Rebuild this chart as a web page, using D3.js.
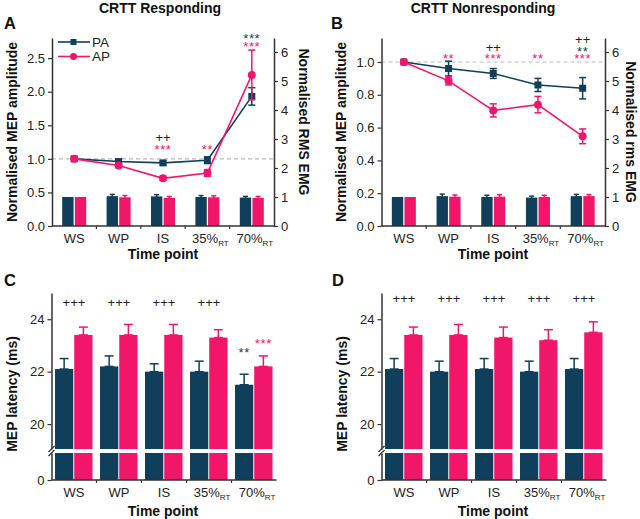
<!DOCTYPE html>
<html>
<head>
<meta charset="utf-8">
<script src="https://cdn.jsdelivr.net/npm/d3@7"></script>
<style>
body { margin: 0; background: #fff; }
text { font-family: "Liberation Sans", Arial, sans-serif; }
</style>
</head>
<body>
<svg id="fig" width="640" height="519"></svg>
<script>
// categories
var timePoints = ["WS", "WP", "IS", "35%", "70%"];
var timeSubs = ["", "", "", "RT", "RT"];

// A - CRTT responding, normalised MEP amplitude (lines) and rms EMG (bars)
var respPA = [1.0, 0.96, 0.94, 0.98, 1.93];
var respPAerr = [0, 0.03, 0.03, 0.05, 0.13];
var respAP = [1.0, 0.90, 0.71, 0.79, 2.25];
var respAPerr = [0, 0.03, 0.03, 0.05, 0.37];
var respEmgPA = [1.0, 1.03, 1.02, 1.0, 0.98];
var respEmgPAerr = [0, 0.06, 0.06, 0.05, 0.04];
var respEmgAP = [1.0, 0.99, 0.97, 0.99, 0.97];
var respEmgAPerr = [0, 0.06, 0.05, 0.05, 0.05];
// [time index, level (MEP units), rows from bottom: text, colour key]
var respMarks = [
    [2, 1.2, [["***", "ap"], ["++", "k"]]],
    [3, 1.2, [["**", "ap"]]],
    [4, 2.73, [["***", "ap"], ["***", "pa"]]]
];

// B - CRTT nonresponding
var nonPA = [1.0, 0.96, 0.93, 0.86, 0.84];
var nonPAerr = [0, 0.045, 0.03, 0.04, 0.065];
var nonAP = [1.0, 0.885, 0.705, 0.74, 0.547];
var nonAPerr = [0, 0.025, 0.04, 0.05, 0.045];
var nonEmgPA = [1.0, 1.03, 1.0, 0.98, 1.03];
var nonEmgPAerr = [0, 0.07, 0.06, 0.05, 0.06];
var nonEmgAP = [1.0, 1.01, 1.01, 1.0, 1.03];
var nonEmgAPerr = [0, 0.06, 0.07, 0.06, 0.05];
var nonMarks = [
    [1, 1.043, [["**", "ap"]]],
    [2, 1.043, [["***", "ap"], ["++", "k"]]],
    [3, 1.043, [["**", "ap"]]],
    [4, 1.043, [["***", "ap"], ["**", "pa"], ["++", "k"]]]
];

// C, D - MEP latency (ms)
var latRespPA = [22.1, 22.2, 22.0, 22.0, 21.5];
var latRespPAerr = [0.4, 0.4, 0.3, 0.4, 0.4];
var latRespAP = [23.4, 23.4, 23.4, 23.3, 22.2];
var latRespAPerr = [0.3, 0.4, 0.4, 0.3, 0.4];
var latNonPA = [22.1, 22.0, 22.1, 22.0, 22.1];
var latNonPAerr = [0.4, 0.4, 0.4, 0.4, 0.4];
var latNonAP = [23.4, 23.4, 23.3, 23.2, 23.5];
var latNonAPerr = [0.3, 0.4, 0.4, 0.4, 0.4];
// [time index, series ("grp" = whole group), level (ms), text, colour key]
var latRespMarks = [
    [0, "grp", 24.62, "+++", "k"], [1, "grp", 24.62, "+++", "k"],
    [2, "grp", 24.62, "+++", "k"], [3, "grp", 24.62, "+++", "k"],
    [4, "PA", 22.86, "**", "pa"], [4, "AP", 23.2, "***", "ap"]
];
var latNonMarks = [
    [0, "grp", 24.8, "+++", "k"], [1, "grp", 24.8, "+++", "k"],
    [2, "grp", 24.8, "+++", "k"], [3, "grp", 24.8, "+++", "k"],
    [4, "grp", 24.8, "+++", "k"]
];

var colors = { pa: "#0f3f5a", ap: "#f2166b", k: "#222" };
var AX = "#333";
var svg = d3.select("#fig");

// rows: [[text, colour], ...] from bottom to top, y = visual centre of bottom row
function markText(g, x, y, rows) {
    var t = g.append("text")
        .attr("text-anchor", "middle")
        .attr("font-size", 13);
    rows.slice().reverse().forEach(function(r, k) {
        var star = r[0].indexOf("*") >= 0;
        var rowY = y - (rows.length - 1 - k) * 7.5;
        t.append("tspan")
            .attr("x", x)
            .attr("y", rowY + (star ? 8.2 : 4.3))
            .attr("letter-spacing", star ? 0.6 : 0)
            .attr("fill", colors[r[1]])
            .text(r[0]);
    });
}

function xAxis(g, x, yPos, boundaries) {
    g.append("line")
        .attr("x1", x.range()[0]).attr("x2", x.range()[1])
        .attr("y1", yPos).attr("y2", yPos)
        .attr("stroke", AX).attr("stroke-width", 1.5);
    boundaries.forEach(function(b) {
        g.append("line")
            .attr("x1", b).attr("x2", b)
            .attr("y1", yPos).attr("y2", yPos + 3)
            .attr("stroke", AX).attr("stroke-width", 1.2);
    });
    timePoints.forEach(function(t, i) {
        var tx = g.append("text")
            .attr("x", x(t) + x.bandwidth() / 2 + (timeSubs[i] ? 3 : 0))
            .attr("y", yPos + 17)
            .attr("text-anchor", "middle")
            .attr("font-size", 13)
            .attr("fill", "#222")
            .text(t);
        if (timeSubs[i]) {
            tx.append("tspan")
                .attr("font-size", 8)
                .attr("dy", 3)
                .text(timeSubs[i]);
        }
    });
}

function styleAxis(sel) {
    sel.selectAll("path").attr("stroke", AX).attr("stroke-width", 1.5);
    sel.selectAll("line").attr("stroke", AX).attr("stroke-width", 1.2);
    sel.selectAll("text").attr("font-size", 13).attr("fill", "#222")
        .style("font-family", "'Liberation Sans', Arial, sans-serif");
}

function axisLabel(x, y, txt, rot) {
    svg.append("text")
        .attr("transform", "translate(" + x + "," + y + ") rotate(" + rot + ")")
        .attr("text-anchor", "middle")
        .attr("dominant-baseline", "central")
        .attr("font-size", 14)
        .attr("font-weight", "bold")
        .attr("fill", "#111")
        .text(txt);
}

function errBar(g, cx, yTop, yBot, col, w) {
    g.append("line").attr("x1", cx).attr("x2", cx).attr("y1", yTop).attr("y2", yBot)
        .attr("stroke", col).attr("stroke-width", 1.5);
    g.append("line").attr("x1", cx - w / 2).attr("x2", cx + w / 2).attr("y1", yTop).attr("y2", yTop)
        .attr("stroke", col).attr("stroke-width", 1.5);
    if (yBot !== null) {
        g.append("line").attr("x1", cx - w / 2).attr("x2", cx + w / 2).attr("y1", yBot).attr("y2", yBot)
            .attr("stroke", col).attr("stroke-width", 1.5);
    }
}

function linePanel(o) {
    var g = svg.append("g");
    var yB = 226, yT = 38;
    var x = d3.scaleBand().domain(timePoints).range([o.x0, o.x1]);
    var y = d3.scaleLinear().domain([0, o.yMax]).range([yB, yT]);
    var yR = d3.scaleLinear().domain([0, 188 / 29]).range([yB, yT]);
    var bw = x.bandwidth();
    var sub = d3.scaleBand().domain(["pa", "ap"]).range([bw / 2 - 12, bw / 2 + 12]).paddingInner(0.1);
    var cx = function(i) { return x(timePoints[i]) + bw / 2; };

    // rms EMG bars
    [["pa", o.emgPA, o.emgPAerr], ["ap", o.emgAP, o.emgAPerr]].forEach(function(s) {
        s[1].forEach(function(v, i) {
            g.append("rect")
                .attr("x", x(timePoints[i]) + sub(s[0]))
                .attr("y", yR(v))
                .attr("width", sub.bandwidth())
                .attr("height", yR(0) - yR(v))
                .attr("fill", colors[s[0]]);
            if (s[2][i] > 0) {
                var bx = x(timePoints[i]) + sub(s[0]) + sub.bandwidth() / 2;
                errBar(g, bx, yR(v + s[2][i]), yR(v - s[2][i]), colors[s[0]], 5);
            }
        });
    });

    // reference line at 1.0
    g.append("line")
        .attr("x1", o.x0).attr("x2", o.x1)
        .attr("y1", y(1)).attr("y2", y(1))
        .attr("stroke", "#bbb").attr("stroke-width", 1.2)
        .attr("stroke-dasharray", "4,3");

    var line = d3.line().x(function(d, i) { return cx(i); }).y(function(d) { return y(d); });
    [["pa", o.pa, o.paErr], ["ap", o.ap, o.apErr]].forEach(function(s) {
        var col = colors[s[0]];
        g.append("path").datum(s[1])
            .attr("d", line)
            .attr("fill", "none")
            .attr("stroke", col)
            .attr("stroke-width", 1.6);
        s[1].forEach(function(v, i) {
            if (s[2][i] > 0) errBar(g, cx(i), y(v + s[2][i]), y(v - s[2][i]), col, 7);
            if (s[0] === "pa") {
                g.append("rect").attr("x", cx(i) - 3.5).attr("y", y(v) - 3.5)
                    .attr("width", 7).attr("height", 7).attr("fill", col);
            } else {
                g.append("circle").attr("cx", cx(i)).attr("cy", y(v)).attr("r", 4).attr("fill", col);
            }
        });
    });

    // significance marks
    o.marks.forEach(function(m) {
        markText(g, cx(m[0]), y(m[1]), m[2]);
    });

    // axes
    var left = g.append("g").attr("transform", "translate(" + o.x0 + ",0)")
        .call(d3.axisLeft(y).tickValues(o.ticks).tickSize(4).tickSizeOuter(0).tickFormat(d3.format(".1f")));
    styleAxis(left);
    var right = g.append("g").attr("transform", "translate(" + o.x1 + ",0)")
        .call(d3.axisRight(yR).tickValues([0, 1, 2, 3, 4, 5, 6]).tickSize(4).tickSizeOuter(0).tickFormat(d3.format("d")));
    styleAxis(right);
    var bounds = [1, 2, 3, 4].map(function(i) { return x(timePoints[i]); });
    xAxis(g, x, yB, bounds);

    if (o.legend) {
        [["pa", "PA"], ["ap", "AP"]].forEach(function(s, k) {
            var ly = 42 + k * 14.5;
            g.append("line").attr("x1", o.x0 + 6).attr("x2", o.x0 + 38).attr("y1", ly).attr("y2", ly)
                .attr("stroke", colors[s[0]]).attr("stroke-width", 1.6);
            if (s[0] === "pa") {
                g.append("rect").attr("x", o.x0 + 18.5).attr("y", ly - 3).attr("width", 6).attr("height", 6)
                    .attr("fill", colors.pa);
            } else {
                g.append("circle").attr("cx", o.x0 + 21.5).attr("cy", ly).attr("r", 3.5).attr("fill", colors.ap);
            }
            g.append("text").attr("x", o.x0 + 40).attr("y", ly + 4.5)
                .attr("font-size", 13.5).attr("fill", "#222").text(s[1]);
        });
    }
}

function barPanel(o) {
    var g = svg.append("g");
    var x = d3.scaleBand().domain(timePoints).range([o.x0, o.x1]);
    var yU = d3.scaleLinear().domain([19.05, 25]).range([449, 293]);
    var yL = d3.scaleLinear().domain([0, 1]).range([480, 453]);
    var bw = x.bandwidth();
    var sub = d3.scaleBand().domain(["pa", "ap"]).range([3.5, bw - 4]).paddingInner(0.05);

    [["pa", o.pa, o.paErr], ["ap", o.ap, o.apErr]].forEach(function(s) {
        var col = colors[s[0]];
        s[1].forEach(function(v, i) {
            var bx = x(timePoints[i]) + sub(s[0]);
            errBar(g, bx + sub.bandwidth() / 2, yU(v + s[2][i]), yU(v), col, 9);
            g.append("rect").attr("x", bx).attr("y", yU(v))
                .attr("width", sub.bandwidth()).attr("height", yU.range()[0] - yU(v))
                .attr("fill", col);
            g.append("rect").attr("x", bx).attr("y", yL(1))
                .attr("width", sub.bandwidth()).attr("height", yL(0) - yL(1))
                .attr("fill", col);
        });
    });

    o.marks.forEach(function(m) {
        var mx = x(timePoints[m[0]]);
        if (m[1] === "grp") mx += bw / 2;
        else mx += sub(m[1].toLowerCase()) + sub.bandwidth() / 2;
        markText(g, mx, yU(m[2]), [[m[3], m[4]]]);
    });

    var up = g.append("g").attr("transform", "translate(" + o.x0 + ",0)")
        .call(d3.axisLeft(yU).tickValues([20, 22, 24]).tickSize(4).tickSizeOuter(0).tickFormat(d3.format("d")));
    styleAxis(up);
    var low = g.append("g").attr("transform", "translate(" + o.x0 + ",0)")
        .call(d3.axisLeft(yL).tickValues([0]).tickSize(4).tickSizeOuter(0).tickFormat(d3.format("d")));
    styleAxis(low);

    // axis break marks
    [449, 453].forEach(function(by) {
        g.append("line").attr("x1", o.x0 - 3).attr("x2", o.x0 + 3)
            .attr("y1", by + 3).attr("y2", by - 3)
            .attr("stroke", AX).attr("stroke-width", 1.2);
    });

    var bounds = [1, 2, 3, 4].map(function(i) { return x(timePoints[i]); });
    xAxis(g, x, 480, bounds);
}

// titles and panel letters
[["CRTT Responding", 160], ["CRTT Nonresponding", 483]].forEach(function(t) {
    svg.append("text").attr("x", t[1]).attr("y", 13)
        .attr("text-anchor", "middle").attr("font-size", 14).attr("font-weight", "bold")
        .attr("fill", "#111").text(t[0]);
});
[["A", 4, 29], ["B", 331, 29], ["C", 4, 286], ["D", 332, 286]].forEach(function(p) {
    svg.append("text").attr("x", p[1]).attr("y", p[2])
        .attr("font-size", 16.5).attr("font-weight", "bold").attr("fill", "#111").text(p[0]);
});

linePanel({ x0: 52, x1: 274, yMax: 2.8, ticks: [0, 0.5, 1, 1.5, 2, 2.5],
    pa: respPA, paErr: respPAerr, ap: respAP, apErr: respAPerr,
    emgPA: respEmgPA, emgPAerr: respEmgPAerr, emgAP: respEmgAP, emgAPerr: respEmgAPerr,
    marks: respMarks, legend: true });
linePanel({ x0: 381.5, x1: 605, yMax: 188 / 164, ticks: [0, 0.2, 0.4, 0.6, 0.8, 1.0],
    pa: nonPA, paErr: nonPAerr, ap: nonAP, apErr: nonAPerr,
    emgPA: nonEmgPA, emgPAerr: nonEmgPAerr, emgAP: nonEmgAP, emgAPerr: nonEmgAPerr,
    marks: nonMarks, legend: false });
barPanel({ x0: 51.5, x1: 276.5, pa: latRespPA, paErr: latRespPAerr,
    ap: latRespAP, apErr: latRespAPerr, marks: latRespMarks });
barPanel({ x0: 381.5, x1: 606.5, pa: latNonPA, paErr: latNonPAerr,
    ap: latNonAP, apErr: latNonAPerr, marks: latNonMarks });

// axis titles
axisLabel(12, 132, "Normalised MEP amplitude", -90);
axisLabel(304, 122, "Normalised RMS EMG", 90);
axisLabel(341, 132, "Normalised MEP amplitude", -90);
axisLabel(631, 132, "Normalised rms EMG", 90);
axisLabel(12, 394, "MEP latency (ms)", -90);
axisLabel(342, 394, "MEP latency (ms)", -90);
[163, 493].forEach(function(cx) {
    axisLabel(cx, 254, "Time point", 0);
    axisLabel(cx, 511, "Time point", 0);
});
</script>
</body>
</html>
